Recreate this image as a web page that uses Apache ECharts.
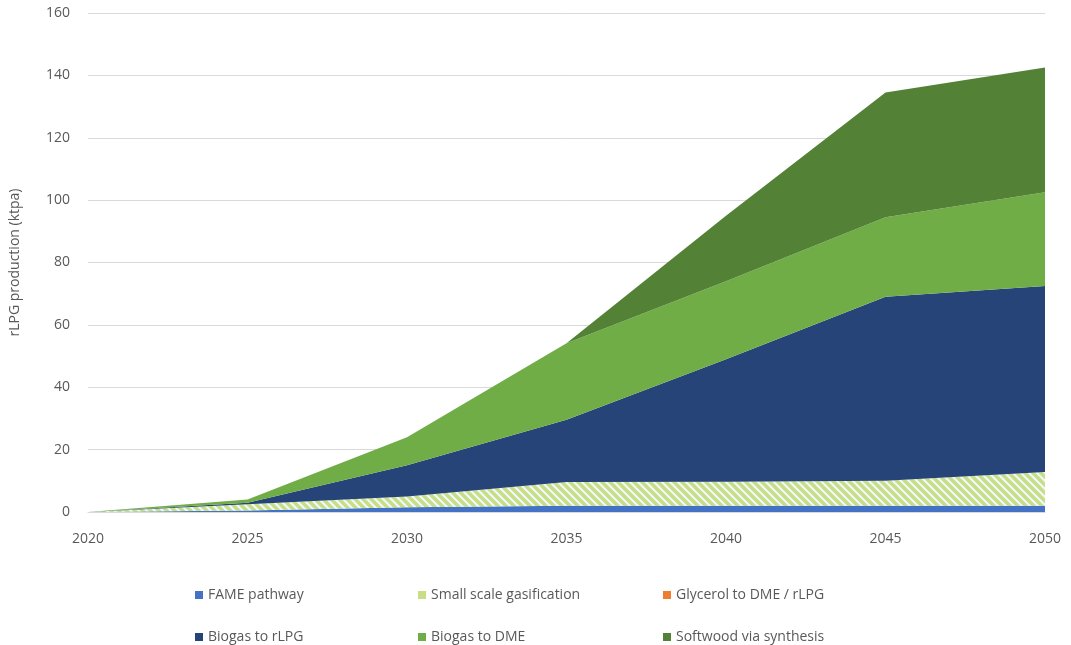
<!DOCTYPE html>
<html>
<head>
<meta charset="utf-8">
<script src="https://cdn.jsdelivr.net/npm/echarts@6/dist/echarts.min.js"></script>
<style>html,body{margin:0;padding:0;background:#fff;}#c{width:1071px;height:645px;}</style>
</head>
<body>
<div id="c"></div>
<script>
const years = ['2020', '2025', '2030', '2035', '2040', '2045', '2050'];
const famePathway = [0, 0.5, 1.5, 2, 2, 2, 2];
const smallScaleGasification = [0, 2, 3.5, 7.6, 7.7, 8, 10.8];
const glycerolToDme = [0, 0, 0, 0, 0, 0, 0];
const biogasToRlpg = [0, 0.5, 10, 20, 39.3, 59, 59.7];
const biogasToDme = [0, 1, 9, 24.5, 25, 25.5, 30];
const softwoodViaSynthesis = [0, 0, 0, 0, 21, 40, 40];
const seriesNames = ['FAME pathway', 'Small scale gasification', 'Glycerol to DME / rLPG', 'Biogas to rLPG', 'Biogas to DME', 'Softwood via synthesis'];
const yTicks = [0, 20, 40, 60, 80, 100, 120, 140, 160];

function hatch() {
  const c = document.createElement('canvas');
  c.width = 8; c.height = 8;
  const g = c.getContext('2d');
  g.fillStyle = '#eefaf7';
  g.fillRect(0, 0, 8, 8);
  g.strokeStyle = '#c9dc86';
  g.lineWidth = 3.4;
  g.beginPath();
  g.moveTo(-2, -2); g.lineTo(10, 10);
  g.moveTo(-6, 2); g.lineTo(2, 10);
  g.moveTo(6, -2); g.lineTo(14, 6);
  g.stroke();
  return c;
}
const hatchPattern = {image: hatch(), repeat: 'repeat'};
const colors = ['#4472c4', '#c9dc86', '#ed7d31', '#264478', '#70ad47', '#538135'];
const areaFills = ['#4472c4', hatchPattern, '#ed7d31', '#264478', '#70ad47', '#538135'];
const dataSets = [famePathway, smallScaleGasification, glycerolToDme, biogasToRlpg, biogasToDme, softwoodViaSynthesis];

const series = seriesNames.map((n, i) => ({
  name: n,
  type: 'line',
  stack: 'total',
  symbol: 'none',
  showSymbol: false,
  lineStyle: {width: 0},
  itemStyle: {color: colors[i]},
  areaStyle: {color: areaFills[i], opacity: 1},
  data: dataSets[i]
}));

const legendPos = [
  [190, 583], [413, 583], [658, 583],
  [190, 625], [413, 625], [658, 625]
];
const legends = seriesNames.map((n, i) => ({
  data: [n],
  left: legendPos[i][0],
  top: legendPos[i][1],
  icon: 'rect',
  itemWidth: 8,
  itemHeight: 8,
  itemGap: 5,
  selectedMode: false,
  textStyle: {color: '#595959', fontSize: 14, fontFamily: 'Open Sans'}
}));

const chart = echarts.init(document.getElementById('c'));
chart.setOption({
  animation: false,
  backgroundColor: '#fff',
  legend: legends,
  grid: {left: 88, right: 26, top: 13, bottom: 133},
  xAxis: {
    type: 'category',
    data: years,
    boundaryGap: false,
    axisLine: {show: true, lineStyle: {color: '#d9d9d9'}},
    axisTick: {show: false},
    splitLine: {show: false},
    axisLabel: {color: '#595959', fontSize: 14, margin: 20, fontFamily: 'Open Sans'}
  },
  yAxis: {
    type: 'value',
    min: yTicks[0], max: yTicks[yTicks.length - 1], interval: 20,
    name: 'rLPG production (ktpa)',
    nameLocation: 'middle',
    nameGap: 66,
    nameTextStyle: {color: '#595959', fontSize: 14, fontFamily: 'Open Sans'},
    axisLine: {show: false},
    axisTick: {show: false},
    splitLine: {lineStyle: {color: '#d9d9d9', width: 1}},
    axisLabel: {color: '#595959', fontSize: 14, margin: 18, fontFamily: 'Open Sans'}
  },
  series: series
});
</script>
</body>
</html>
